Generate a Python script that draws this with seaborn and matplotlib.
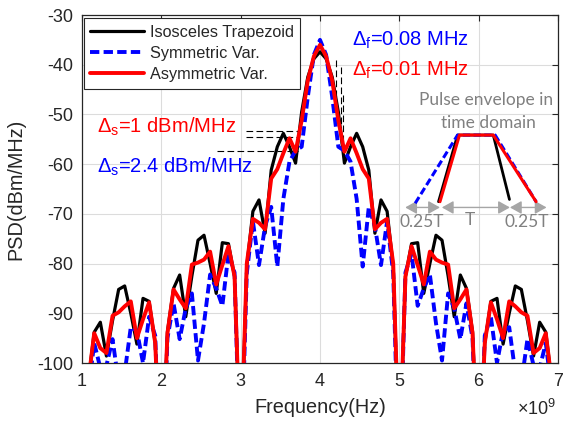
import numpy as np
import pandas as pd
import matplotlib
matplotlib.use("Agg")
import matplotlib.pyplot as plt
import seaborn as sns

# ---------------- data ----------------
freq_ghz = [1.000, 1.077, 1.154, 1.231, 1.308, 1.385, 1.462, 1.538, 1.615, 1.692,
            1.769, 1.846, 1.923, 2.000, 2.077, 2.154, 2.231, 2.308, 2.385, 2.462,
            2.538, 2.615, 2.692, 2.769, 2.846, 2.923, 3.000, 3.077, 3.154, 3.231,
            3.308, 3.385, 3.462, 3.538, 3.615, 3.692, 3.769, 3.846, 3.923, 4.000,
            4.077, 4.154, 4.231, 4.308, 4.385, 4.462, 4.538, 4.615, 4.692, 4.769,
            4.846, 4.923, 5.000, 5.077, 5.154, 5.231, 5.308, 5.385, 5.462, 5.538,
            5.615, 5.692, 5.769, 5.846, 5.923, 6.000, 6.077, 6.154, 6.231, 6.308,
            6.385, 6.462, 6.538, 6.615, 6.692, 6.769, 6.846, 6.923, 7.000]

psd_isosceles = [-130, -104, -93.8, -91.8, -98.6, -91.5, -85.2, -84.5, -90.0, -96.2,
                 -87.0, -87.6, -96.0, -125, -93.7, -85.0, -82.3, -90.7, -82.5, -75.3,
                 -74.3, -80.0, -86.0, -75.8, -76.0, -82.6, -120, -80.6, -69.5, -67.2,
                 -73.9, -61.2, -56.5, -53.8, -56.5, -59.8, -49.5, -42.5, -38.8, -37.4,
                 -38.8, -42.5, -49.5, -59.8, -56.5, -53.8, -56.5, -61.2, -73.9, -67.2,
                 -69.5, -80.6, -120, -82.6, -76.0, -75.8, -86.0, -80.0, -74.3, -75.3,
                 -82.5, -90.7, -82.3, -85.0, -93.7, -125, -96.0, -87.6, -87.0, -96.2,
                 -90.0, -84.5, -85.2, -91.5, -98.6, -91.8, -93.8, -104, -130]

psd_symmetric = [-130, -106, -96.0, -101, -100.5, -95.2, -104, -102, -92.8, -93.5,
                 -100, -90.7, -94.5, -130, -95.0, -88.0, -95.2, -89.0, -86.0, -99.5,
                 -92.0, -82.2, -85.0, -88.5, -78.0, -81.8, -125, -82.0, -71.5, -80.3,
                 -72.5, -68.6, -80.6, -67.0, -59.5, -57.3, -56.5, -46.5, -38.0, -35.0,
                 -38.0, -46.5, -56.5, -57.3, -59.5, -67.0, -80.6, -68.6, -72.5, -80.3,
                 -71.5, -82.0, -125, -81.8, -78.0, -88.5, -85.0, -82.2, -92.0, -99.5,
                 -86.0, -89.0, -95.2, -88.0, -95.0, -130, -94.5, -90.7, -100, -93.5,
                 -92.8, -102, -104, -95.2, -100.5, -101, -96.0, -106, -130]

psd_asymmetric = [-130, -104, -94.0, -97.0, -98.0, -90.5, -89.8, -88.6, -87.6, -95.0,
                  -91.2, -87.8, -96.0, -125, -94.0, -85.2, -87.2, -89.0, -80.2, -79.8,
                  -79.2, -77.6, -84.2, -80.3, -76.5, -82.6, -120, -80.0, -71.0, -71.8,
                  -73.1, -62.9, -61.0, -57.8, -54.8, -57.5, -51.2, -43.2, -38.3, -36.0,
                  -38.3, -43.2, -51.2, -57.5, -54.8, -57.8, -61.0, -62.9, -73.1, -71.8,
                  -71.0, -80.0, -120, -82.6, -76.5, -80.3, -84.2, -77.6, -79.2, -79.8,
                  -80.2, -89.0, -87.2, -85.2, -94.0, -125, -96.0, -87.8, -91.2, -95.0,
                  -87.6, -88.6, -89.8, -90.5, -98.0, -97.0, -94.0, -104, -130]

series_names = ["Isosceles Trapezoid", "Symmetric Var.", "Asymmetric Var."]
x_ticks_ghz = [1, 2, 3, 4, 5, 6, 7]
y_ticks = [-100, -90, -80, -70, -60, -50, -40, -30]

# ---------------- style ----------------
sns.set_style("white")
plt.rcParams["font.family"] = ["Liberation Sans", "DejaVu Sans"]
plt.rcParams["mathtext.fontset"] = "custom"
plt.rcParams["mathtext.rm"] = "Liberation Sans"
plt.rcParams["mathtext.it"] = "Liberation Sans:italic"
plt.rcParams["mathtext.default"] = "regular"
plt.rcParams["axes.unicode_minus"] = False

AX_COL = "#262626"
fig = plt.figure(figsize=(5.63, 4.23), dpi=100)
ax = fig.add_axes([82 / 563, 1 - 363 / 423, 476 / 563, 348 / 423])

df = pd.DataFrame({"f": freq_ghz,
                   series_names[0]: psd_isosceles,
                   series_names[1]: psd_symmetric,
                   series_names[2]: psd_asymmetric})

sns.lineplot(data=df, x="f", y=series_names[0], ax=ax, color="black",
             linewidth=2.3, label=series_names[0], zorder=3)
sns.lineplot(data=df, x="f", y=series_names[1], ax=ax, color="#0000ff",
             linewidth=2.8, label=series_names[1], zorder=4)
ax.lines[-1].set_dashes([2.4, 1.1])
sns.lineplot(data=df, x="f", y=series_names[2], ax=ax, color="#ff0000",
             linewidth=2.8, label=series_names[2], zorder=5)

ax.set_xlim(1, 7)
ax.set_ylim(-100, -30)
ax.set_xticks(x_ticks_ghz)
ax.set_xticklabels([str(v) for v in x_ticks_ghz])
ax.set_yticks(y_ticks)
ax.set_yticklabels([str(v) for v in y_ticks])

ax.grid(True, color="#dcdcdc", linewidth=0.8)
ax.set_axisbelow(True)
for s in ax.spines.values():
    s.set_color(AX_COL)
    s.set_linewidth(0.9)
ax.tick_params(direction="in", top=True, right=True, length=4.5, width=0.8,
               colors=AX_COL, labelsize=13, labelcolor=AX_COL)
ax.tick_params(axis="x", pad=7)
ax.tick_params(axis="y", pad=6.5)
ax.set_xlabel("Frequency(Hz)", fontsize=14.3, color=AX_COL, labelpad=6)
ax.set_ylabel("PSD(dBm/MHz)", fontsize=14.3, color=AX_COL, labelpad=8)
ax.text(0.996, -0.133, r"$\times10^{9}$", fontsize=13, color=AX_COL,
        ha="right", va="center", transform=ax.transAxes)

leg = ax.legend(loc="upper left", bbox_to_anchor=(0.004, 0.9905), fontsize=11.7,
                handlelength=3.3, handletextpad=0.35, labelspacing=0.38,
                borderpad=0.4, borderaxespad=0.0, fancybox=False, framealpha=1)
leg.get_frame().set_edgecolor(AX_COL)
leg.get_frame().set_linewidth(0.8)
leg.set_zorder(10)

# ---------------- annotations ----------------
for yv, x0 in [(-53.3, 3.07), (-54.5, 3.07), (-57.3, 2.70)]:
    ax.plot([x0, 3.72], [yv, yv], color="black", lw=0.8, ls=(0, (6, 3)), zorder=2)
for xv, y0, y1 in [(4.20, -39.0, -48.5), (4.265, -40.5, -56.0), (4.29, -46.0, -58.5)]:
    ax.plot([xv, xv], [y0, y1], color="black", lw=0.8, ls=(0, (6, 3)), zorder=2)

T = ax.transAxes
ax.text(0.567, 0.911, r"$\Delta_f$=0.08 MHz", color="#0000ff", fontsize=14.5, transform=T)
ax.text(0.567, 0.825, r"$\Delta_f$=0.01 MHz", color="#ff0000", fontsize=14.5, transform=T)
ax.text(0.031, 0.661, r"$\Delta_s$=1 dBm/MHz", color="#ff0000", fontsize=14.5, transform=T)
ax.text(0.031, 0.546, r"$\Delta_s$=2.4 dBm/MHz", color="#0000ff", fontsize=14.5, transform=T)

# inset: pulse envelope sketch
gray = "#808080"
ax.text(0.848, 0.7557, "Pulse envelope in", color=gray, fontsize=12.5, family="Lato",
        ha="center", va="center", transform=T)
ax.text(0.853, 0.690, "time domain", color=gray, fontsize=12.5, family="Lato",
        ha="center", va="center", transform=T)
ax.plot([0.749, 0.789, 0.864, 0.898], [0.4635, 0.655, 0.655, 0.470], color="black",
        lw=2.0, transform=T, zorder=6)
bl, = ax.plot([0.70, 0.789, 0.868, 0.954], [0.459, 0.655, 0.655, 0.4635], color="#0000ff",
              lw=2.2, transform=T, zorder=7)
bl.set_dashes([2.4, 1.1])
ax.plot([0.752, 0.793, 0.864, 0.954], [0.4635, 0.655, 0.655, 0.4635], color="#ff0000",
        lw=2.2, transform=T, zorder=8)
agray = "#a6a6a6"
for xa, xb in [(0.679, 0.752), (0.756, 0.899), (0.899, 0.976)]:
    ax.annotate("", xy=(xa, 0.447), xytext=(xb, 0.447), xycoords=T, textcoords=T,
                arrowprops=dict(arrowstyle="<|-|>,head_length=0.5,head_width=0.28",
                                color=agray, lw=1.0, mutation_scale=14,
                                shrinkA=0, shrinkB=0))
ax.text(0.714, 0.405, "0.25T", color=gray, fontsize=12.5, family="Lato",
        ha="center", va="center", transform=T)
ax.text(0.815, 0.41, "T", color=gray, fontsize=12.5, family="Lato",
        ha="center", va="center", transform=T)
ax.text(0.935, 0.405, "0.25T", color=gray, fontsize=12.5, family="Lato",
        ha="center", va="center", transform=T)

fig.savefig("out.png", dpi=100)
